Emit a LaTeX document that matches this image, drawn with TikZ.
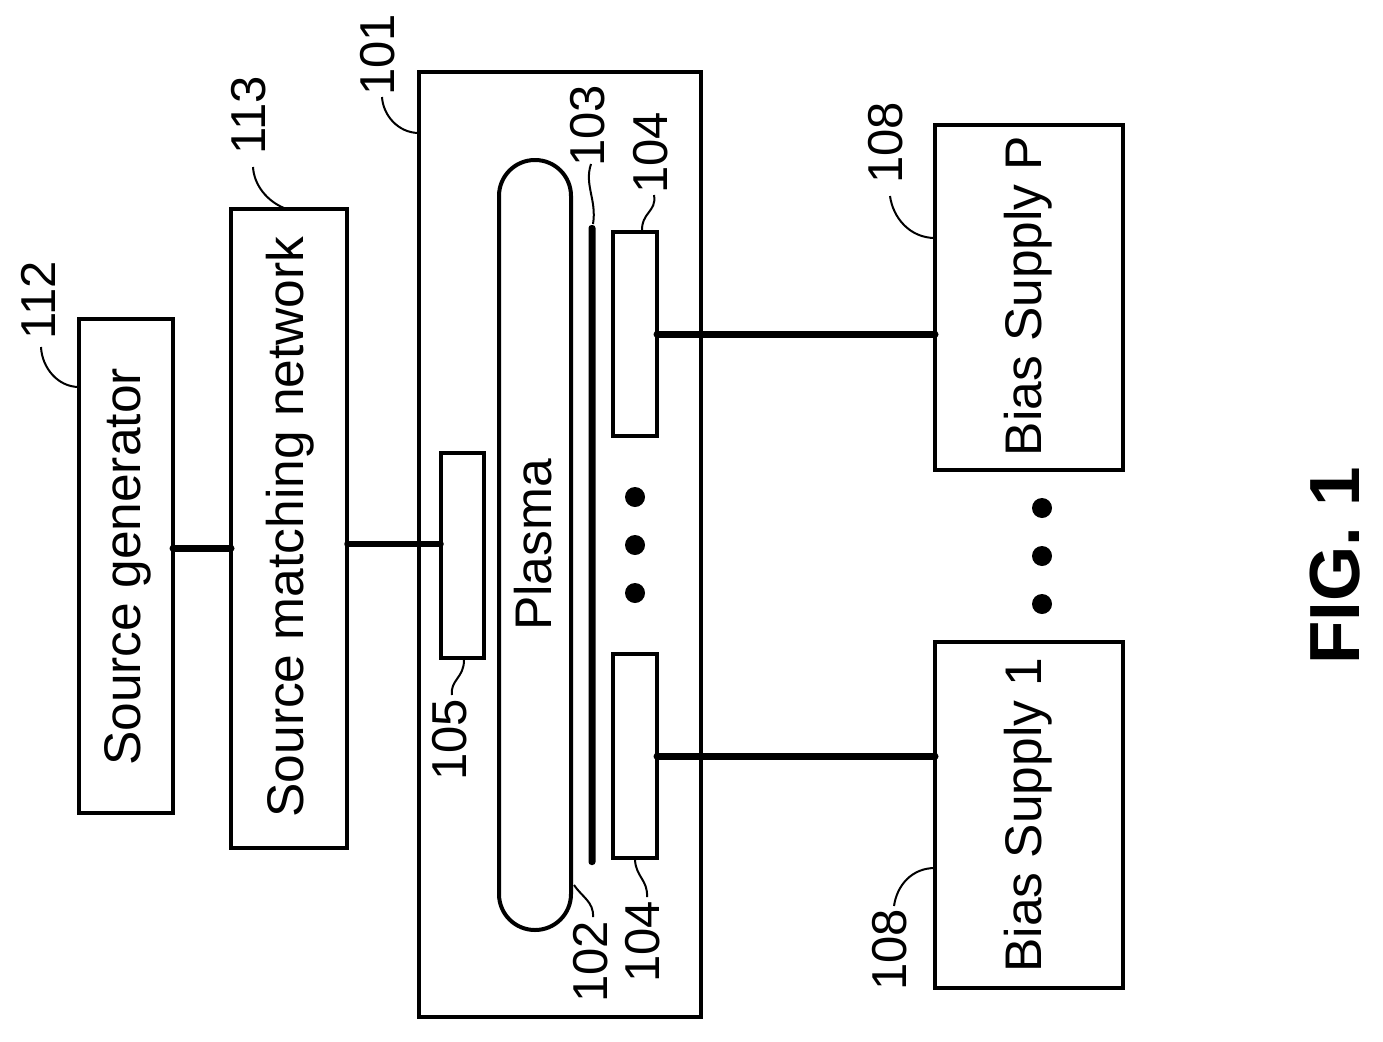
\documentclass[tikz,border=0pt]{standalone}
\usepackage{fontspec}
\setmainfont{Liberation Sans}
\tikzset{
  box/.style={draw,line width=4pt,inner sep=0pt,outer sep=0pt},
  blob/.style={circle,fill=black,inner sep=0pt,minimum size=20pt},
  txt/.style={rotate=90,inner sep=0pt,font=\fontsize{51.5}{60}\selectfont},
  num/.style={rotate=90,inner sep=0pt,font=\fontsize{49}{58}\selectfont},
  wire/.style={line width=7pt,line cap=round},
  leader/.style={line width=2pt}
}
\begin{document}
\begin{tikzpicture}[x=1pt,y=-1pt]
            \useasboundingbox (0,0) rectangle (1383,1041);
            % boxes
            \node[box,minimum width=282pt,minimum height=945pt] (CH) at (560,544.5) {};
            \node[box,minimum width=94pt,minimum height=494pt] (SG) at (126,566) {};
            \node[box,minimum width=116pt,minimum height=639pt] (SM) at (289,528.5) {};
            \node[box,minimum width=43pt,minimum height=205pt] (TE) at (462.5,555.5) {};
            \node[box,minimum width=72pt,minimum height=770pt,rounded corners=35.9pt] (PL) at (535,545) {};
            \node[fill=black,inner sep=0pt,minimum width=7pt,minimum height=640pt,rounded corners=3pt] (WF) at (592,545) {};
            \node[box,minimum width=44pt,minimum height=204pt] (E2) at (635,334) {};
            \node[box,minimum width=44pt,minimum height=204pt] (E1) at (635,756) {};
            \node[box,minimum width=188pt,minimum height=345pt] (BP) at (1029,297.5) {};
            \node[box,minimum width=188pt,minimum height=346pt] (B1) at (1029,815) {};

            % dots
            \node[blob] (D1) at (635,497) {};
            \node[blob] (D2) at (635,545) {};
            \node[blob] (D3) at (635,593) {};
            \node[blob] (D4) at (1042,508) {};
            \node[blob] (D5) at (1042,556) {};
            \node[blob] (D6) at (1042,604) {};

            % texts
            \node[txt] (T1) at (128,567) {Source generator};
            \node[txt] (T2) at (290,527) {Source matching network};
            \node[txt] (T3) at (533,545) {Plasma};
            \node[txt] (T4) at (1028,296) {Bias Supply P};
            \node[txt] (T5) at (1028,815) {Bias Supply 1};
            \node[rotate=90,inner sep=0pt,font=\fontsize{71}{80}\selectfont\bfseries] (FG) at (1335,566) {FIG. 1};

            % numbers
            \node[num] (N112) at (38,300) {112};
            \node[num] (N113) at (249,115) {113};
            \node[num] (N101) at (378,55) {101};
            \node[num] (N103) at (588,126) {103};
            \node[num] (N104a) at (651,153) {104};
            \node[num] (N108a) at (886,143) {108};
            \node[num] (N105) at (450,740) {105};
            \node[num] (N102) at (591,962) {102};
            \node[num] (N104b) at (643,942) {104};
            \node[num] (N108b) at (890,950) {108};

            % wires
            \coordinate (SGa) at (173,548);
            \coordinate (SMa) at (231,548);
            \coordinate (SMb) at (347,544);
            \coordinate (TEa) at (441,544);
            \draw[wire] (SGa) -- (SMa);
            \draw[wire,line width=5.5pt] (SMb) -- (TEa);
            \draw[wire] (E2.east) -- (E2.east -| BP.west);
            \draw[wire] (E1.east) -- (E1.east -| B1.west);

            % leaders
            \draw[leader] (41,347) .. controls (42,368) and (58,387) .. (79,387);
            \draw[leader] (253,167) .. controls (254,185) and (267,201) .. (284,208);
            \draw[leader] (382,97) .. controls (383,115) and (398,133) .. (419,133);
            \draw[leader] (591,164) .. controls (584,185) and (597,200) .. (593,224);
            \draw[leader] (654,195) .. controls (657,212) and (641,212) .. (642,232);
            \draw[leader] (890,196) .. controls (893,218) and (910,238) .. (935,238);
            \draw[leader] (464,660) .. controls (464,678) and (450,680) .. (452,695);
            \draw[leader] (574,885) .. controls (582,897) and (594,902) .. (593,917);
            \draw[leader] (635,860) .. controls (636,877) and (648,880) .. (647,897);
            \draw[leader] (935,868) .. controls (912,868) and (897,885) .. (894,906);
        \end{tikzpicture}
\end{document}
